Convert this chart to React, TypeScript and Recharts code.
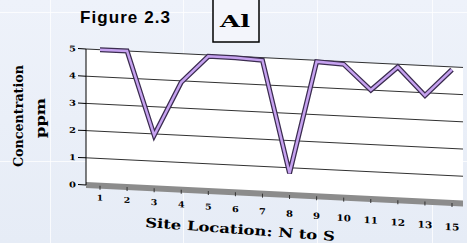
import { LineChart, Line, XAxis, YAxis, CartesianGrid } from 'recharts';

const sites = ['1', '2', '3', '4', '5', '6', '7', '8', '9', '10', '11', '12', '13', '15'];
const alPpm = [5, 5, 1.95, 3.95, 4.95, 4.95, 4.9, 0.8, 4.95, 4.9, 4.0, 4.9, 3.9, 4.9];
const ppmTicks = [0, 1, 2, 3, 4, 5];

const data = sites.map((site, i) => ({ site, al: alPpm[i] }));

const wide = '"DejaVu Serif", serif';

function SiteTick({ x, y, payload, index }: any) {
  // labels fall away to the right, like the 3D floor in the original
  const drop = index * 0.95;
  const size = 8 + index * 0.1;
  return (
    <text
      x={x}
      y={y + drop}
      dy={9}
      textAnchor="middle"
      fontFamily={wide}
      fontWeight="bold"
      fontSize={size}
      textLength={payload.value.length * size * 0.8}
      lengthAdjust="spacingAndGlyphs"
      fill="#000"
    >
      {payload.value}
    </text>
  );
}

function PpmTick({ x, y, payload }: any) {
  return (
    <text x={x} y={y} dy={3} textAnchor="end" fontFamily={wide} fontWeight="bold" fontSize={8} textLength={7} lengthAdjust="spacingAndGlyphs" fill="#000">
      {payload.value}
    </text>
  );
}

const bgLine = 'rgba(255,255,255,0.75)';

export default function App() {
  return (
    <div
      style={{
        position: 'absolute',
        left: 0,
        top: 0,
        width: 467,
        height: 243,
        overflow: 'hidden',
        background: 'linear-gradient(180deg, #eef2fa 0%, #e6ecf6 100%)',
      }}
    >
      {[50, 183, 317, 432].map((x) => (
        <div key={x} style={{ position: 'absolute', left: x, top: 0, width: 1, height: 243, background: bgLine }} />
      ))}
      {[12, 161].map((y) => (
        <div key={y} style={{ position: 'absolute', left: 0, top: y, width: 467, height: 1, background: bgLine }} />
      ))}

      <div
        style={{
          position: 'absolute',
          left: 0,
          top: 0,
          transform: 'skewY(2.8deg)',
          transformOrigin: '86px 0px',
        }}
      >
        <LineChart width={467} height={243} data={data} margin={{ top: 49, right: 4, bottom: 28, left: 0 }}>
          <CartesianGrid vertical={false} stroke="#000" strokeWidth={0.8} fill="#fff" fillOpacity={1} />
          <XAxis
            dataKey="site"
            height={30}
            padding={{ left: 14, right: 11 }}
            axisLine={{ stroke: '#8c8c8c', strokeWidth: 6 }}
            tickLine={{ stroke: '#333' }}
            tickSize={4}
            tickMargin={2}
            tick={<SiteTick />}
            interval={0}
          />
          <YAxis
            width={86}
            domain={[0, 5]}
            ticks={ppmTicks}
            axisLine={{ stroke: '#000' }}
            tickLine={{ stroke: '#000' }}
            tickSize={8}
            tickMargin={2}
            tick={<PpmTick />}
          />
          <Line
            dataKey="al"
            stroke="#3b2c50"
            strokeWidth={5}
            dot={false}
            type="linear"
            isAnimationActive={false}
          />
          <Line
            dataKey="al"
            stroke="#c6a2f0"
            strokeWidth={2.5}
            dot={false}
            type="linear"
            legendType="none"
            isAnimationActive={false}
          />
        </LineChart>
      </div>

      <svg width={467} height={243} style={{ position: 'absolute', left: 0, top: 0, pointerEvents: 'none' }}>
        <text
          x={125}
          y={23}
          textAnchor="middle"
          fontFamily='"Liberation Sans", Arial, sans-serif'
          fontWeight="bold"
          fontSize={17}
          textLength={90}
          fill="#000"
        >
          Figure 2.3
        </text>
        <rect x={213} y={-2} width={46} height={44} fill="#f3f5fb" stroke="#000" strokeWidth={1.5} />
        <text
          x={220}
          y={27}
          fontFamily={wide}
          fontWeight="bold"
          fontSize={17}
          textLength={30}
          lengthAdjust="spacingAndGlyphs"
          fill="#000"
        >
          Al
        </text>
        <text
          transform="translate(23,167) rotate(-90)"
          fontFamily={wide}
          fontWeight="bold"
          fontSize={13}
          textLength={102}
          lengthAdjust="spacingAndGlyphs"
          fill="#000"
        >
          Concentration
        </text>
        <text
          transform="translate(45,138) rotate(-90)"
          fontFamily={wide}
          fontWeight="bold"
          fontSize={13}
          textLength={40}
          lengthAdjust="spacingAndGlyphs"
          fill="#000"
        >
          ppm
        </text>
        <text
          transform="translate(145,227) rotate(4.2)"
          fontFamily={wide}
          fontWeight="bold"
          fontSize={13}
          textLength={190}
          lengthAdjust="spacingAndGlyphs"
          fill="#000"
        >
          Site Location: N to S
        </text>
      </svg>
    </div>
  );
}
